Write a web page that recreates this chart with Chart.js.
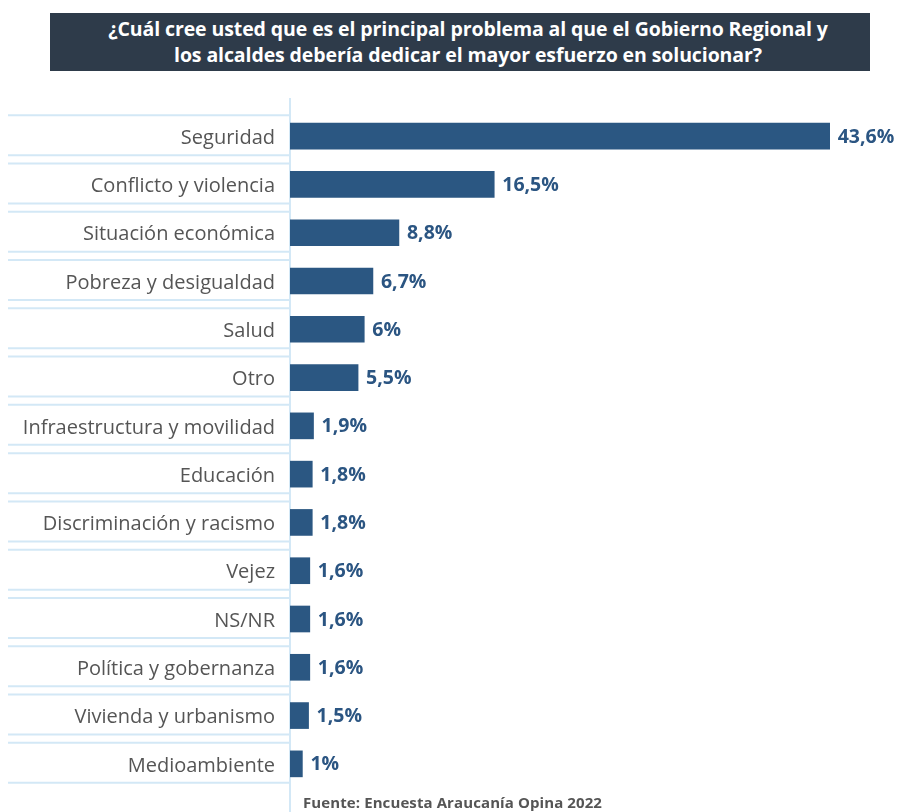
<!DOCTYPE html>
<html>
<head>
<meta charset="utf-8">
<script src="https://cdn.jsdelivr.net/npm/chart.js@4.4.0/dist/chart.umd.min.js"></script>
<style>
  html, body { margin:0; padding:0; background:#fff; }
  #wrap { position:relative; width:898px; height:812px; overflow:hidden; }
  #title { position:absolute; left:50px; top:13px; width:804px; padding-left:16px; height:58px; background:#2e3b4a; color:#fff;
    font-family:"Open Sans", sans-serif; font-weight:700; font-size:19.5px; line-height:26px; text-align:center;
    display:flex; align-items:center; justify-content:center; letter-spacing:-0.1px; }
  #foot { position:absolute; left:303px; top:792px; font-family:"Open Sans", sans-serif; font-weight:700;
    font-size:15px; color:#555; letter-spacing:0.1px; }
  canvas { position:absolute; left:0; top:0; }
</style>
</head>
<body>
<div id="wrap">
  <canvas id="c" width="898" height="812"></canvas>
  <div id="title">¿Cuál cree usted que es el principal problema al que el Gobierno Regional y<br>los alcaldes debería dedicar el mayor esfuerzo en solucionar?</div>
  <div id="foot">Fuente: Encuesta Araucanía Opina 2022</div>
</div>
<script>
const categories = ["Seguridad","Conflicto y violencia","Situación económica","Pobreza y desigualdad","Salud","Otro","Infraestructura y movilidad","Educación","Discriminación y racismo","Vejez","NS/NR","Política y gobernanza","Vivienda y urbanismo","Medioambiente"];
const values = [43.6,16.5,8.8,6.7,6,5.5,1.9,1.8,1.8,1.6,1.6,1.6,1.5,1];

const rowLines = {
  id:'rowLines',
  beforeDatasetsDraw(chart){
    const {ctx, chartArea, scales} = chart;
    const y = scales.y;
    ctx.save();
    ctx.strokeStyle = '#d3e8f6';
    ctx.lineWidth = 2;
    categories.forEach((c,i)=>{
      const cy = y.getPixelForValue(i);
      [cy-21, cy+19].forEach(yy=>{
        ctx.beginPath(); ctx.moveTo(8, yy); ctx.lineTo(chartArea.left, yy); ctx.stroke();
      });
    });
    ctx.beginPath(); ctx.moveTo(chartArea.left, 98); ctx.lineTo(chartArea.left, 812); ctx.stroke();
    ctx.restore();
  }
};
const valueLabels = {
  id:'valueLabels',
  afterDatasetsDraw(chart){
    const {ctx} = chart;
    const meta = chart.getDatasetMeta(0);
    ctx.save();
    ctx.fillStyle = '#2b5582';
    ctx.font = 'bold 19.5px "Open Sans", sans-serif';
    ctx.textBaseline = 'middle';
    ctx.textAlign = 'left';
    meta.data.forEach((bar,i)=>{
      ctx.fillText(String(values[i]).replace('.',',') + '%', bar.x + 8, bar.y + 1);
    });
    ctx.restore();
  }
};

new Chart(document.getElementById('c'), {
  type:'bar',
  data:{ labels:categories, datasets:[{ data:values, backgroundColor:'#2b5782', barThickness:26, borderWidth:0 }] },
  options:{
    indexAxis:'y',
    responsive:false,
    animation:false,
    layout:{ padding:{ top:112, bottom:24, left:0, right:51 } },
    plugins:{ legend:{display:false}, tooltip:{enabled:false} },
    scales:{
      x:{ min:0, max:45, display:false },
      y:{
        afterFit(s){ s.width = 290; },
        grid:{ display:false }, border:{ display:false },
        ticks:{ color:'#555', padding:7, labelOffset:2, font:{ family:'"Open Sans", sans-serif', size:20 } }
      }
    }
  },
  plugins:[rowLines, valueLabels]
});
</script>
</body>
</html>
